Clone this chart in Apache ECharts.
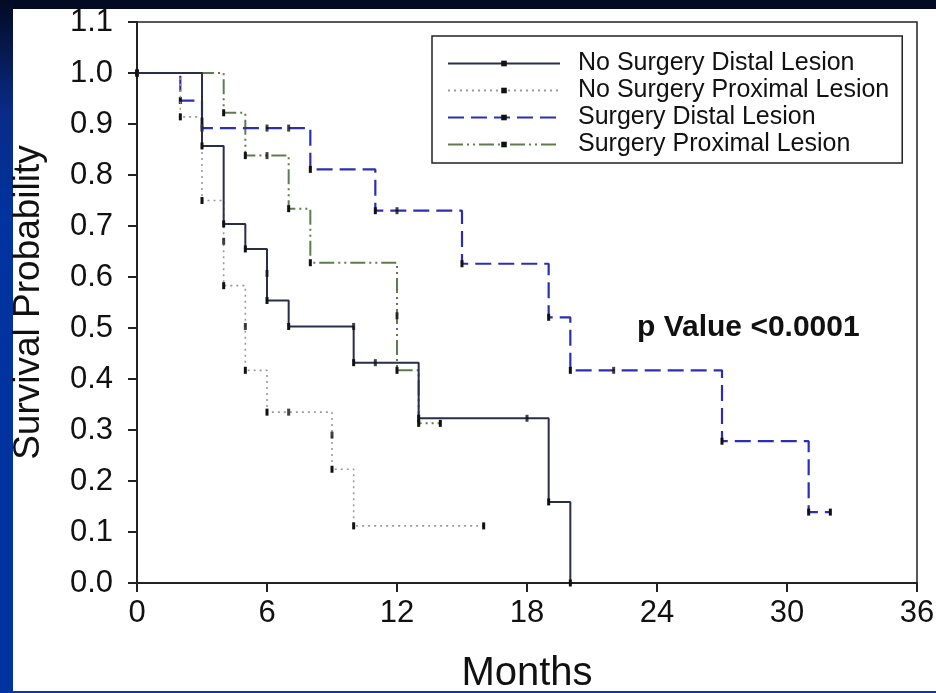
<!DOCTYPE html>
<html>
<head>
<meta charset="utf-8">
<script src="https://cdn.jsdelivr.net/npm/echarts@6/dist/echarts.min.js"></script>
<style>
  html, body { margin: 0; padding: 0; background: #020b22; }
  #wrap { position: relative; width: 936px; height: 693px; overflow: hidden; background: #020b22; }
  #leftbar { position: absolute; left: 0; top: 0; width: 13px; height: 693px;
             background: linear-gradient(#020b22 0px, #0a2a86 110px, #0033a0 220px, #0033a0 693px); }
  #panel { position: absolute; left: 13px; top: 9px; width: 923px; height: 682px; background: #ffffff; }
  #bottomline { position: absolute; left: 13px; top: 691px; width: 923px; height: 2px; background: #0a3aa8; }
  #chart { position: absolute; left: 0; top: 0; width: 936px; height: 693px; }
</style>
</head>
<body>
<div id="wrap">
  <div id="leftbar"></div>
  <div id="panel"></div>
  <div id="bottomline"></div>
  <div id="chart"></div>
</div>
<script>
// ---- data (months, survival probability) ----
const seriesNames = [
  'No Surgery Distal Lesion',
  'No Surgery Proximal Lesion',
  'Surgery Distal Lesion',
  'Surgery Proximal Lesion'
];
const noSurgeryDistal   = [[0,1],[3,0.857],[4,0.704],[5,0.655],[6,0.554],[7,0.503],[10,0.432],[13,0.323],[19,0.159],[20,0]];
const noSurgeryProximal = [[0,1],[2,0.914],[3,0.750],[4,0.583],[5,0.417],[6,0.335],[9,0.223],[10,0.112],[16,0.112]];
const surgeryDistal     = [[0,1],[2,0.946],[3,0.892],[8,0.811],[11,0.730],[15,0.626],[19,0.521],[20,0.417],[27,0.278],[31,0.139],[32,0.139]];
const surgeryProximal   = [[0,1],[4,0.922],[5,0.838],[7,0.734],[8,0.628],[12,0.417],[13,0.313],[14,0.313]];
// censored observations (tick marks)
const noSurgeryDistalCensor   = [[6,0.607],[10,0.503],[11,0.432],[18,0.323]];
const noSurgeryProximalCensor = [[3,0.906],[4,0.67],[5,0.503],[7,0.335],[9,0.29]];
const surgeryDistalCensor     = [[6,0.892],[7,0.892],[12,0.730],[22,0.417]];
const surgeryProximalCensor   = [[6,0.838],[12,0.524]];
const xTicks = { min: 0, max: 36, step: 6 };
const yTicks = { min: 0, max: 1.1, step: 0.1 };
const pValueText = 'p Value <0.0001';

const FONT = 'Liberation Sans, Arial, sans-serif';
const chart = echarts.init(document.getElementById('chart'), null, { renderer: 'canvas' });

const lineStyles = [
  { color: '#2a2e48', width: 2, type: 'solid' },
  { color: '#9a9a9a', width: 1.6, type: [2, 4] },
  { color: '#2b2fb5', width: 2.2, type: [16, 7] },
  { color: '#5e7d4e', width: 2, type: [15, 4, 2, 4, 2, 4] }
];
const curves = [noSurgeryDistal, noSurgeryProximal, surgeryDistal, surgeryProximal];
const censors = [noSurgeryDistalCensor, noSurgeryProximalCensor, surgeryDistalCensor, surgeryProximalCensor];

const series = [];
curves.forEach((d, i) => {
  series.push({
    name: seriesNames[i],
    type: 'line',
    step: 'end',
    data: d,
    showSymbol: true,
    symbol: 'rect',
    symbolSize: [3, 7],
    symbolKeepAspect: true,
    itemStyle: { color: '#111' },
    lineStyle: lineStyles[i],
    z: 10 - i,
    silent: true,
    animation: false
  });
});
censors.forEach((d, i) => {
  series.push({
    name: seriesNames[i] + ' censor',
    type: 'scatter',
    data: d,
    symbol: 'rect',
    symbolSize: [3, 7],
    itemStyle: { color: '#111' },
    z: 20,
    silent: true,
    animation: false
  });
});

chart.setOption({
  animation: false,
  backgroundColor: 'transparent',
  grid: {
    left: 137, right: 19, top: 22, bottom: 110,
    outerBoundsMode: 'none',
    containLabel: false,
    show: true, borderColor: '#222', borderWidth: 1.5, backgroundColor: 'transparent'
  },
  legend: {
    data: seriesNames,
    orient: 'vertical',
    left: 432, top: 36,
    padding: [15, 13, 6, 15],
    itemGap: 2,
    itemWidth: 112,
    itemHeight: 7,
    symbolKeepAspect: true,
    backgroundColor: '#fff',
    borderColor: '#222',
    borderWidth: 1.5,
    textStyle: { fontFamily: FONT, fontSize: 25, color: '#111', lineHeight: 25, padding: [0, 0, 0, 13] }
  },
  xAxis: {
    type: 'value',
    min: xTicks.min, max: xTicks.max, interval: xTicks.step,
    name: 'Months',
    nameLocation: 'middle',
    nameGap: 71,
    nameTextStyle: { fontFamily: FONT, fontSize: 40, color: '#111' },
    axisLine: { show: true, onZero: false, lineStyle: { color: '#222', width: 2 } },
    axisTick: { show: true, inside: false, length: 9, lineStyle: { color: '#222', width: 2 } },
    axisLabel: { fontFamily: FONT, fontSize: 31, color: '#111', margin: 15 },
    splitLine: { show: false }
  },
  yAxis: {
    type: 'value',
    min: yTicks.min, max: yTicks.max, interval: yTicks.step,
    name: 'Survival Probability',
    nameLocation: 'middle',
    nameGap: 90,
    nameTextStyle: { fontFamily: FONT, fontSize: 37, color: '#111' },
    axisLine: { show: true, onZero: false, lineStyle: { color: '#222', width: 2 } },
    axisTick: { show: true, inside: false, length: 9, lineStyle: { color: '#222', width: 2 } },
    axisLabel: { fontFamily: FONT, fontSize: 31, color: '#111', margin: 24, formatter: v => v.toFixed(1) },
    splitLine: { show: false }
  },
  graphic: [{
    type: 'text',
    left: 637, top: 313,
    style: { text: pValueText, font: 'bold 30px ' + FONT, fill: '#111' },
    silent: true
  }],
  series: series
});
</script>
</body>
</html>
